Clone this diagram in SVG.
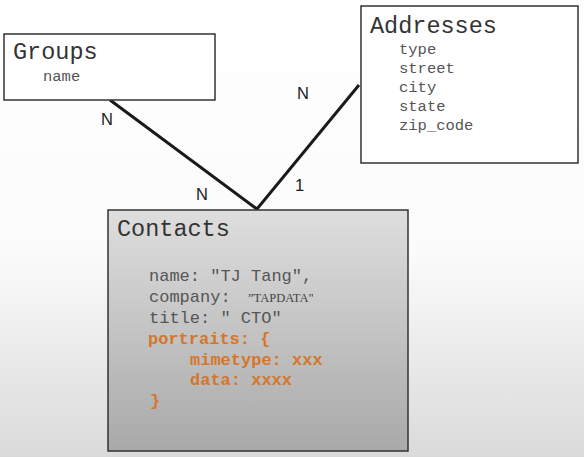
<svg xmlns="http://www.w3.org/2000/svg" width="584" height="457" viewBox="0 0 584 457">
<defs>
<linearGradient id="bg" x1="0" y1="0" x2="0" y2="1">
<stop offset="0" stop-color="#ffffff"/>
<stop offset="0.55" stop-color="#fbfbfb"/>
<stop offset="1" stop-color="#dadada"/>
</linearGradient>
<linearGradient id="cg" x1="0" y1="0" x2="0" y2="1">
<stop offset="0" stop-color="#dedede"/>
<stop offset="1" stop-color="#a9a9a9"/>
</linearGradient>
</defs>
<style>
.box{fill:#fff;stroke:#333;stroke-width:1.5}
.title{font-family:"Liberation Mono",monospace;font-size:23.5px;fill:#333}
.f{font-family:"Liberation Mono",monospace;font-size:15.5px;fill:#555}
.c{font-family:"Liberation Mono",monospace;font-size:17px;fill:#555}
.o{font-family:"Liberation Mono",monospace;font-size:17px;fill:#d5762a;font-weight:bold}
.lbl{font-family:"Liberation Sans",Arial,sans-serif;font-size:16.5px;fill:#222}
.conn{stroke:#1a1a1a;stroke-width:3;fill:none}
</style>
<rect width="584" height="457" fill="url(#bg)"/>
<g id="connectors">
<polyline class="conn" points="110,100 257,209 359,85"/>
<text class="lbl" x="101" y="125">N</text>
<text class="lbl" x="297" y="99">N</text>
<text class="lbl" x="196" y="200">N</text>
<text class="lbl" x="295" y="191">1</text>
</g>
<g id="groups">
<rect class="box" x="4" y="34" width="211" height="66"/>
<text class="title" x="13" y="59">Groups</text>
<text class="f" x="43" y="81">name</text>
</g>
<g id="addresses">
<rect class="box" x="361" y="6" width="217" height="157"/>
<text class="title" x="370" y="33">Addresses</text>
<text class="f" x="399" y="54">type</text>
<text class="f" x="399" y="73">street</text>
<text class="f" x="399" y="92">city</text>
<text class="f" x="399" y="111">state</text>
<text class="f" x="399" y="130">zip_code</text>
</g>
<g id="contacts">
<rect x="108" y="210" width="300" height="241" fill="url(#cg)" stroke="#333" stroke-width="1.5"/>
<text class="title" x="117" y="236">Contacts</text>
<text class="c" x="149" y="281">name: "TJ Tang",</text>
<text class="c" x="149" y="302">company: <tspan font-family="'Liberation Serif',serif" font-size="12.5" fill="#444" x="248">”TAPDATA"</tspan></text>
<text class="c" x="149" y="323">title: " CTO"</text>
<text class="o" x="148" y="344">portraits: {</text>
<text class="o" x="190" y="365">mimetype: xxx</text>
<text class="o" x="190" y="385">data: xxxx</text>
<text class="o" x="150" y="406">}</text>
</g>
</svg>
